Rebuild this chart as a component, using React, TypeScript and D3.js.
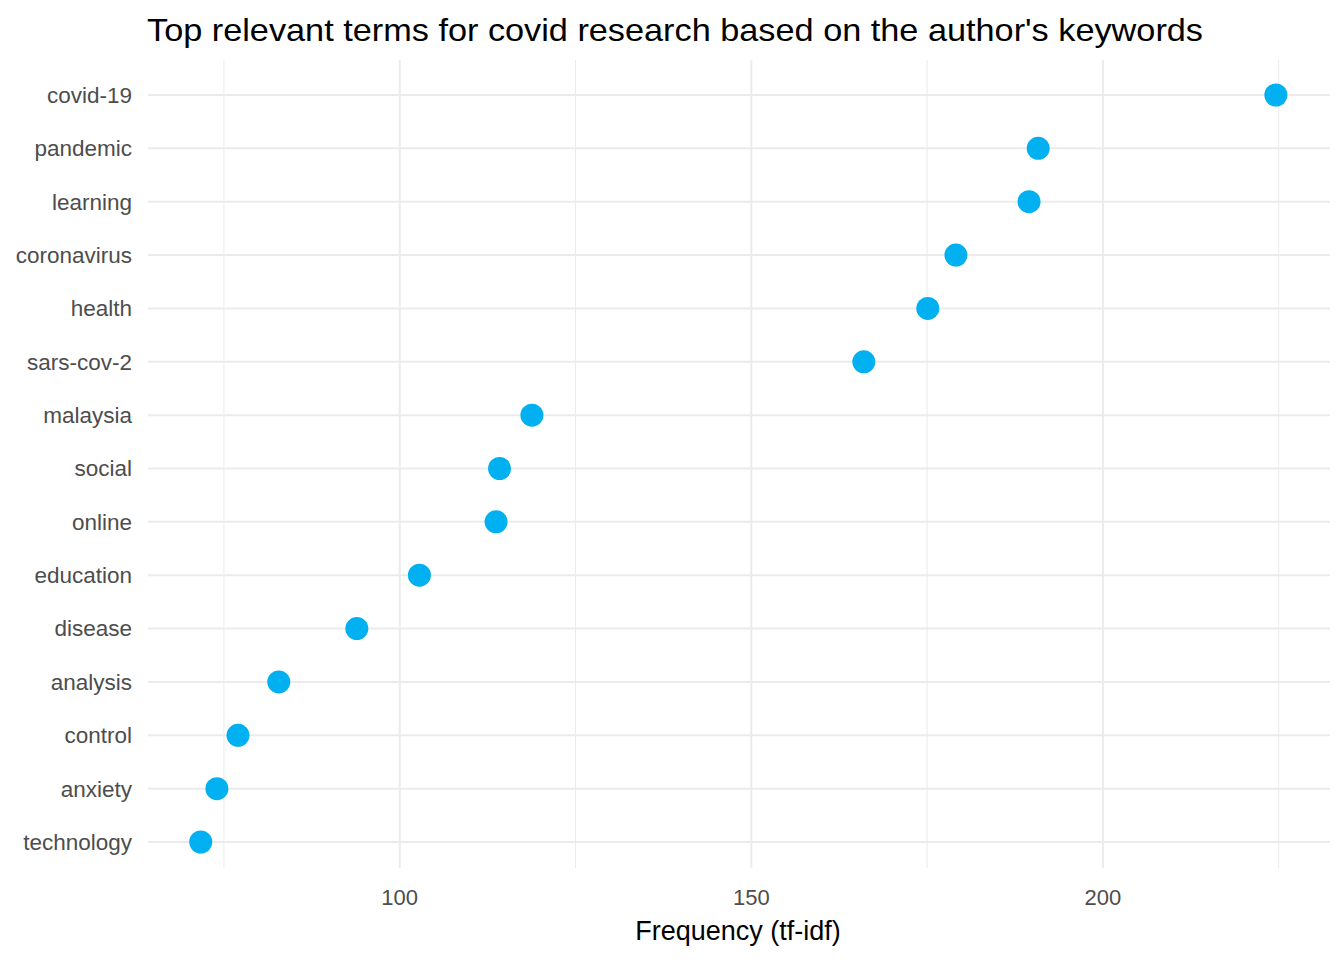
import React from 'react';
import * as d3 from 'd3';

const terms = ['covid-19', 'pandemic', 'learning', 'coronavirus', 'health', 'sars-cov-2', 'malaysia', 'social', 'online', 'education', 'disease', 'analysis', 'control', 'anxiety', 'technology'];
const tfidf = [224.6, 190.8, 189.5, 179.1, 175.1, 166.0, 118.8, 114.2, 113.7, 102.8, 93.9, 82.8, 77.0, 74.0, 71.7];
const majorTicks = [100, 150, 200];
const minorTicks = [75, 125, 175, 225];

const W = 1344, H = 960;
const left = 148, right = 1330, top = 60, bottom = 868;

export default function App() {
  const x = d3.scaleLinear().domain([64.2, 232.3]).range([left, right]);
  const y = d3.scalePoint<string>().domain(terms).range([95, 842]);
  const font = '"Liberation Sans", Arial, sans-serif';
  return (
    <svg width={W} height={H} style={{ position: 'absolute', left: 0, top: 0, background: '#fff' }} fontFamily={font}>
      {minorTicks.map(t => (
        <line key={'m' + t} x1={x(t)} x2={x(t)} y1={top} y2={bottom} stroke="#ebebeb" strokeWidth={1} />
      ))}
      {majorTicks.map(t => (
        <line key={'M' + t} x1={x(t)} x2={x(t)} y1={top} y2={bottom} stroke="#ebebeb" strokeWidth={2} />
      ))}
      {terms.map(t => (
        <line key={'g' + t} x1={left} x2={right} y1={y(t)} y2={y(t)} stroke="#ebebeb" strokeWidth={2} />
      ))}
      {terms.map((t, i) => (
        <circle key={'c' + t} cx={x(tfidf[i])} cy={y(t)} r={11.5} fill="#00B0F0" />
      ))}
      {terms.map(t => (
        <text key={'l' + t} x={132} y={y(t)!} dy="0.35em" textAnchor="end" fontSize={22.5} fill="#4d4d4d">{t}</text>
      ))}
      {majorTicks.map(t => (
        <text key={'t' + t} x={x(t)} y={905} textAnchor="middle" fontSize={22} fill="#4d4d4d">{t}</text>
      ))}
      <text x={738} y={940} textAnchor="middle" fontSize={27} fill="#000">Frequency (tf-idf)</text>
      <text x={147} y={41} fontSize={32} textLength={1056} lengthAdjust="spacingAndGlyphs" fill="#000">Top relevant terms for covid research based on the author's keywords</text>
    </svg>
  );
}
